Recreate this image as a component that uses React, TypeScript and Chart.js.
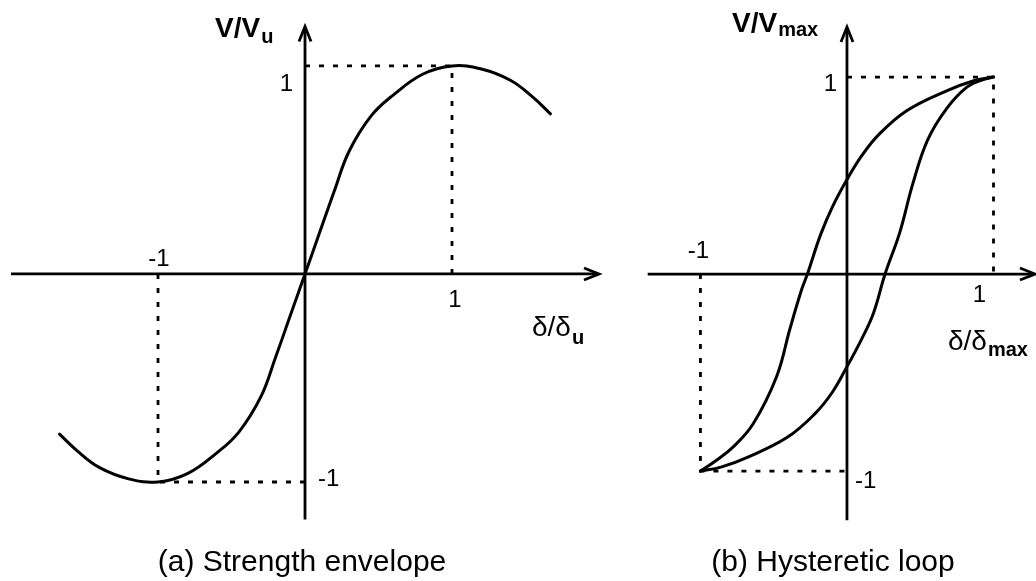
import React, { useEffect, useRef } from "react";
import { Chart, registerables } from "chart.js";

Chart.register(...registerables);

// ---------- data ----------
// (a) strength envelope  V/Vu vs δ/δu
const envelopeX = [-1.67, -1.55, -1.4, -1.2, -1.0, -0.8, -0.6, -0.45, -0.3, -0.2, -0.1, 0, 0.1, 0.2, 0.3, 0.45, 0.6, 0.8, 1.0, 1.2, 1.4, 1.55, 1.67];
const envelopeY = [-0.77, -0.85, -0.93, -0.985, -1.0, -0.96, -0.86, -0.76, -0.59, -0.4, -0.2, 0, 0.2, 0.4, 0.59, 0.76, 0.86, 0.96, 1.0, 0.985, 0.93, 0.85, 0.77];

// (b) hysteretic loop  V/Vmax vs δ/δmax
const loopUpperX = [-1, -0.9, -0.78, -0.64, -0.48, -0.39, -0.31, -0.27, -0.18, -0.1, 0, 0.1, 0.22, 0.41, 0.68, 0.86, 1];
const loopUpperY = [-1, -0.95, -0.88, -0.76, -0.52, -0.28, -0.08, 0, 0.2, 0.34, 0.48, 0.6, 0.71, 0.83, 0.93, 0.98, 1];
const loopLowerX = [-1, -0.86, -0.68, -0.41, -0.22, -0.1, 0, 0.1, 0.18, 0.26, 0.36, 0.45, 0.55, 0.68, 0.82, 0.92, 1];
const loopLowerY = [-1, -0.98, -0.93, -0.83, -0.71, -0.6, -0.47, -0.33, -0.2, 0, 0.21, 0.46, 0.68, 0.84, 0.95, 0.985, 1];

// dashed guide lines (same for both panels)
const guideTopX = [0, 1, 1];
const guideTopY = [1, 1, 0];
const guideBottomX = [-1, -1, 0];
const guideBottomY = [0, -1, -1];

// tick labels: text and the value point they belong to
const tickTexts = ["1", "-1", "1", "-1"];
const tickValX = [0, -1, 1, 0];
const tickValY = [1, 0, 0, -1];

// axis labels and titles
const titleA = "(a) Strength envelope";
const titleB = "(b) Hysteretic loop";
const yLabelMain = "V/V";
const xLabelMain = "δ/δ";
const subA = "u";
const subB = "max";

// ---------- layout ----------
type TickStyle = { dx: number; dy: number; align: CanvasTextAlign };
type Panel = {
  left: number;
  width: number;
  xMin: number; xMax: number; yMin: number; yMax: number;
  axisX: [number, number];
  axisY: [number, number];
  tickStyles: TickStyle[];
  yLabel: { x: number; y: number; sub: string; subDy: number };
  xLabel: { x: number; y: number; sub: string; subDy: number };
  title: { text: string; x: number; y: number };
  series: { xs: number[]; ys: number[] }[];
};

const HEIGHT = 581;

const panels: Panel[] = [
  {
    left: 0,
    width: 620,
    xMin: -2.075, xMax: 2.143, yMin: -1.476, yMax: 1.317,
    axisX: [-2.0, 2.0],
    axisY: [-1.18, 1.19],
    tickStyles: [
      { dx: -12, dy: 18, align: "right" },
      { dx: 1, dy: -15, align: "center" },
      { dx: 3, dy: 26, align: "center" },
      { dx: 13, dy: -3, align: "left" },
    ],
    yLabel: { x: 215, y: 37, sub: subA, subDy: 6 },
    xLabel: { x: 532, y: 336, sub: subA, subDy: 8 },
    title: { text: titleA, x: 302, y: 571 },
    series: [{ xs: envelopeX, ys: envelopeY }],
  },
  {
    left: 620,
    width: 416,
    xMin: -1.549, xMax: 1.29, yMin: -1.558, yMax: 1.391,
    axisX: [-1.36, 1.283],
    axisY: [-1.25, 1.254],
    tickStyles: [
      { dx: -10, dy: 7, align: "right" },
      { dx: -2, dy: -23, align: "center" },
      { dx: -14, dy: 21, align: "center" },
      { dx: 8, dy: 10, align: "left" },
    ],
    yLabel: { x: 112, y: 32, sub: subB, subDy: 4 },
    xLabel: { x: 328, y: 350, sub: subB, subDy: 6 },
    title: { text: titleB, x: 213, y: 571 },
    series: [
      { xs: loopUpperX, ys: loopUpperY },
      { xs: loopLowerX, ys: loopLowerY },
    ],
  },
];

const FONT = "'Liberation Sans', Arial, Helvetica, sans-serif";
const INK = "#000000";

const toPts = (xs: number[], ys: number[]) => xs.map((x, i) => ({ x, y: ys[i] }));

function drawArrow(ctx: CanvasRenderingContext2D, tx: number, ty: number, dx: number, dy: number) {
  const len = 15;
  const hw = 6;
  const px = -dy;
  const py = dx;
  ctx.beginPath();
  ctx.moveTo(tx - dx * len + px * hw, ty - dy * len + py * hw);
  ctx.lineTo(tx, ty);
  ctx.lineTo(tx - dx * len - px * hw, ty - dy * len - py * hw);
  ctx.stroke();
}

function drawSubText(
  ctx: CanvasRenderingContext2D,
  x: number, y: number,
  main: string, mainFont: string,
  sub: string, subFont: string, subDy: number
) {
  ctx.textAlign = "left";
  ctx.textBaseline = "alphabetic";
  ctx.font = mainFont;
  ctx.fillText(main, x, y);
  const w = ctx.measureText(main).width;
  ctx.font = subFont;
  ctx.fillText(sub, x + w + 1, y + subDy);
}

function makePlugin(p: Panel) {
  return {
    id: "sketchAxes",
    beforeDatasetsDraw(chart: any) {
      const ctx: CanvasRenderingContext2D = chart.ctx;
      const xs = chart.scales.x;
      const ys = chart.scales.y;
      const x0 = xs.getPixelForValue(0);
      const y0 = ys.getPixelForValue(0);
      ctx.save();
      ctx.strokeStyle = INK;
      ctx.lineWidth = 2.8;
      ctx.lineCap = "butt";
      ctx.lineJoin = "miter";
      // x axis
      const xa = xs.getPixelForValue(p.axisX[0]);
      const xb = xs.getPixelForValue(p.axisX[1]);
      ctx.beginPath();
      ctx.moveTo(xa, y0);
      ctx.lineTo(xb - 1, y0);
      ctx.stroke();
      drawArrow(ctx, xb, y0, 1, 0);
      // y axis
      const ya = ys.getPixelForValue(p.axisY[0]);
      const yb = ys.getPixelForValue(p.axisY[1]);
      ctx.beginPath();
      ctx.moveTo(x0, ya);
      ctx.lineTo(x0, yb + 1);
      ctx.stroke();
      drawArrow(ctx, x0, yb, 0, -1);
      ctx.restore();
    },
    afterDraw(chart: any) {
      const ctx: CanvasRenderingContext2D = chart.ctx;
      const xs = chart.scales.x;
      const ys = chart.scales.y;
      ctx.save();
      ctx.fillStyle = INK;
      // tick labels
      ctx.font = `24px ${FONT}`;
      ctx.textBaseline = "middle";
      tickTexts.forEach((t, i) => {
        const st = p.tickStyles[i];
        ctx.textAlign = st.align;
        ctx.fillText(t, xs.getPixelForValue(tickValX[i]) + st.dx, ys.getPixelForValue(tickValY[i]) + st.dy);
      });
      // axis labels
      drawSubText(ctx, p.yLabel.x, p.yLabel.y, yLabelMain, `bold 28px ${FONT}`, p.yLabel.sub, `bold 20px ${FONT}`, p.yLabel.subDy);
      drawSubText(ctx, p.xLabel.x, p.xLabel.y, xLabelMain, `28px ${FONT}`, p.xLabel.sub, `bold 20px ${FONT}`, p.xLabel.subDy);
      // title
      ctx.font = `30px ${FONT}`;
      ctx.textAlign = "center";
      ctx.textBaseline = "alphabetic";
      ctx.fillText(p.title.text, p.title.x, p.title.y);
      ctx.restore();
    },
  };
}

function PanelChart({ p }: { p: Panel }) {
  const ref = useRef<HTMLCanvasElement | null>(null);
  useEffect(() => {
    if (!ref.current) return;
    const dash = [5, 9];
    const datasets: any[] = [
      {
        data: toPts(guideTopX, guideTopY),
        borderColor: INK, borderWidth: 2.8, borderDash: dash,
        showLine: true, pointRadius: 0, tension: 0, fill: false,
      },
      {
        data: toPts(guideBottomX, guideBottomY),
        borderColor: INK, borderWidth: 2.8, borderDash: dash,
        showLine: true, pointRadius: 0, tension: 0, fill: false,
      },
      ...p.series.map((s) => ({
        data: toPts(s.xs, s.ys),
        borderColor: INK, borderWidth: 3,
        showLine: true, pointRadius: 0, fill: false,
        tension: 0.4,
        borderCapStyle: "round",
        borderJoinStyle: "round",
      })),
    ];
    const chart = new Chart(ref.current, {
      type: "scatter",
      data: { datasets },
      options: {
        animation: false,
        responsive: false,
        maintainAspectRatio: false,
        devicePixelRatio: 1,
        layout: { padding: 0 },
        events: [],
        plugins: { legend: { display: false }, tooltip: { enabled: false }, title: { display: false } },
        scales: {
          x: { type: "linear", min: p.xMin, max: p.xMax, display: false },
          y: { type: "linear", min: p.yMin, max: p.yMax, display: false },
        },
      } as any,
      plugins: [makePlugin(p)],
    });
    return () => chart.destroy();
  }, [p]);
  return (
    <canvas
      ref={ref}
      width={p.width}
      height={HEIGHT}
      style={{ position: "absolute", left: p.left, top: 0, width: p.width, height: HEIGHT }}
    />
  );
}

export default function App() {
  return (
    <div style={{ position: "fixed", left: 0, top: 0, width: 1036, height: HEIGHT, background: "#ffffff", overflow: "hidden" }}>
      {panels.map((p, i) => (
        <PanelChart key={i} p={p} />
      ))}
    </div>
  );
}
